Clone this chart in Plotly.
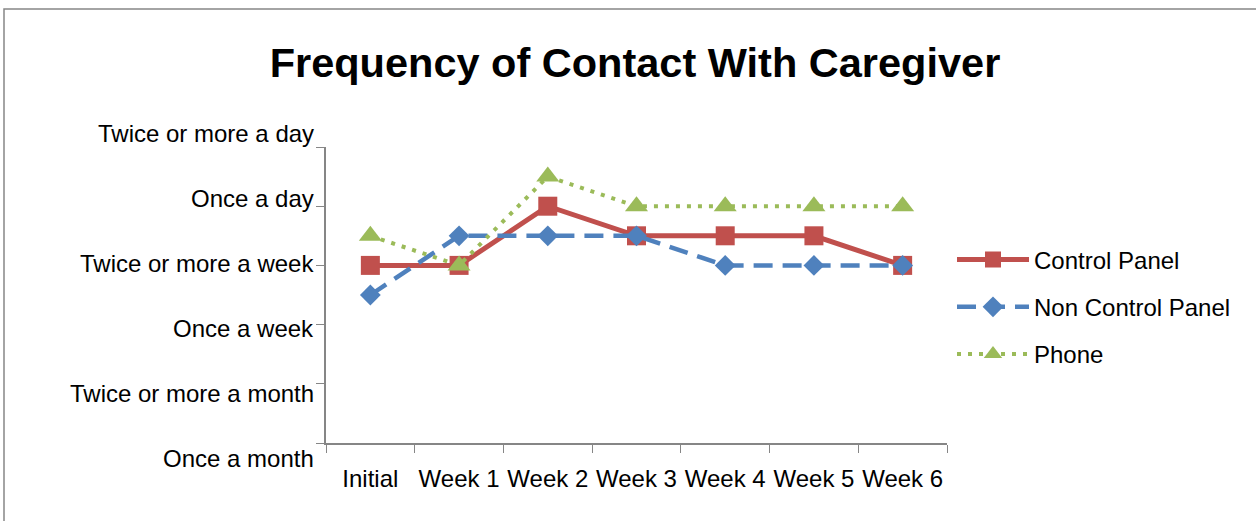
import plotly.graph_objects as go

categories = ["Initial", "Week 1", "Week 2", "Week 3", "Week 4", "Week 5", "Week 6"]
control_panel = [4, 4, 5, 4.5, 4.5, 4.5, 4]
non_control_panel = [3.5, 4.5, 4.5, 4.5, 4, 4, 4]
phone = [4.5, 4, 5.5, 5, 5, 5, 5]
level_values = [1, 2, 3, 4, 5, 6]
level_labels = ["Once a month", "Twice or more a month", "Once a week",
                "Twice or more a week", "Once a day", "Twice or more a day"]

FONT = "Liberation Sans"
W, H = 1256, 521
L, R, T, B = 326, 947, 147, 443

fig = go.Figure()
fig.add_trace(go.Scatter(
    x=categories, y=control_panel, name="Control Panel", mode="lines+markers",
    line=dict(color="#C0504D", width=5),
    marker=dict(symbol="square", size=19, color="#C0504D"),
    legendgroup="a"))
fig.add_trace(go.Scatter(
    x=categories, y=non_control_panel, name="Non Control Panel", mode="lines+markers",
    line=dict(color="#4F81BD", width=4.5, dash="19px,10px"),
    marker=dict(symbol="diamond", size=16, color="#4F81BD"),
    legendgroup="b"))
fig.add_trace(go.Scatter(
    x=categories, y=phone, name="Phone", mode="lines+markers",
    line=dict(color="#9BBB59", width=4, dash="4px,7px"),
    marker=dict(symbol="triangle-up", size=20, color="#9BBB59"),
    legendgroup="c"))

# y-axis labels (Excel spreads them slightly wider than the tick spacing)
for v, lab in zip(level_values, level_labels):
    ylab = 4 + (v - 4) * 1.096
    fig.add_annotation(x=0, xref="paper", xshift=-10, xanchor="right",
                       y=(ylab - 1) / 5, yref="paper", yanchor="middle", yshift=2,
                       text=lab, showarrow=False,
                       font=dict(family=FONT, size=24, color="#000000"))

# outer chart border
fig.add_shape(type="rect", xref="paper", yref="paper",
              x0=(4 - L) / (R - L), x1=(1262 - L) / (R - L),
              y0=(B - 530) / (B - T), y1=(B - 9) / (B - T),
              line=dict(color="#868686", width=1.5), fillcolor="rgba(0,0,0,0)")

fig.update_layout(
    width=W, height=H,
    margin=dict(l=L, r=W - R, t=T, b=H - B, autoexpand=False),
    paper_bgcolor="white", plot_bgcolor="white",
    title=dict(text="<b>Frequency of Contact With Caregiver</b>",
               x=635 / W, xanchor="center", y=1 - 62 / H, yanchor="middle",
               font=dict(family=FONT, size=41.5, color="#000000")),
    font=dict(family=FONT, size=24, color="#000000"),
    legend=dict(x=(952 - L) / (R - L), xanchor="left", y=(B - 307) / (B - T), yanchor="middle",
                font=dict(family=FONT, size=24, color="#000000"),
                itemwidth=72, tracegroupgap=13, traceorder="grouped",
                bgcolor="rgba(0,0,0,0)"),
    showlegend=True,
)
fig.update_xaxes(type="category", range=[-0.5, 6.5], showline=True, linecolor="#868686",
                 linewidth=1.5, ticks="outside", ticklen=8, tickcolor="#868686",
                 tickson="boundaries", showgrid=False, zeroline=False, tickangle=0,
                 automargin=False, ticklabelstandoff=13,
                 tickfont=dict(family=FONT, size=24, color="#000000"))
fig.update_yaxes(range=[1, 6], showline=True, linecolor="#868686", linewidth=1.5,
                 ticks="outside", ticklen=8, tickcolor="#868686",
                 tickvals=level_values, showticklabels=False, automargin=False,
                 showgrid=False, zeroline=False)

fig.write_html("out.html", config={"displayModeBar": False},
               post_script="document.body.style.margin='0';")
